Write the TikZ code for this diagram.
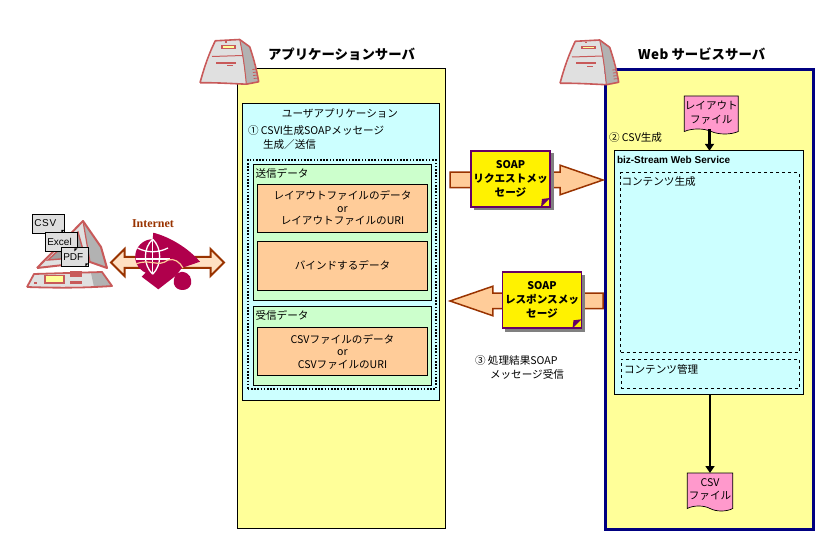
\documentclass[tikz,border=0pt]{standalone}
\usepackage{fontspec}
\setmainfont{Noto Sans CJK JP}
\newfontfamily\inetfont{Liberation Serif}
\newfontfamily\latinfont{Liberation Sans}
\usepackage{xcolor}
\usetikzlibrary{arrows.meta,positioning,shapes.arrows,shapes.symbols}
\definecolor{srvyellow}{HTML}{FFFF99}
\definecolor{appcyan}{HTML}{CCFFFF}
\definecolor{datagreen}{HTML}{CCFFCC}
\definecolor{dataorange}{HTML}{FFCC99}
\definecolor{filepink}{HTML}{FF99CC}
\definecolor{webnavy}{HTML}{000080}
\definecolor{notepurple}{HTML}{660066}
\definecolor{arrowbrown}{HTML}{993300}
\definecolor{iconred}{HTML}{C85A5A}
\definecolor{iconcrimson}{HTML}{B0004C}
\tikzset{
  servericon/.pic={
    \fill[gray!60] (39.7,0) -- (49.7,7.3) -- (58.7,42.3) -- (46.3,44.7) -- cycle;
    \fill[black!12] (0,43.3) -- (15.3,1.3) -- (39.7,0) -- (46.3,44.7)
      .. controls (30,44) and (15,43) .. (0,43.3);
    \draw[iconred,line width=1.6pt,line join=round] (0,43.3) .. controls (5,25) and (10,12) .. (15.3,1.3)
      -- (39.7,0) -- (49.7,7.3) .. controls (54,20) and (57,32) .. (58.7,42.3) -- (46.3,44.7)
      .. controls (30,44) and (15,43) .. (0,43.3);
    \draw[iconred,line width=1pt] (39.7,0) .. controls (43,15) and (45,30) .. (46.3,44.7);
    \draw[iconred,line width=1pt] (12,17) -- (43,16);
    \fill[iconred] (20.7,5.7) rectangle (36.3,9.4);
    \fill[srvyellow] (23,6.8) rectangle (34,8.3);
    \fill[iconred] (24.7,1.8) rectangle (26.7,3.3);
    \fill[iconred] (15.7,22.3) rectangle (36.3,24.3);
    \fill[iconred] (27.3,26) rectangle (33,27);
    \foreach \tick in {30,33,36,39}
      \draw[iconred,line width=.8pt] (\tick*.13+48.5,\tick) -- (\tick*.13+53,\tick-.4);
  },
  pcicon/.pic={
    \fill[gray!60] (83,221) -- (101,247) -- (107,268) -- (90,262) -- cycle;
    \fill[black!12] (37,268) -- (83,221) -- (90,262) -- cycle;
    \fill[gray!75] (48,260) -- (78,232) -- (85,257) -- cycle;
    \draw[iconred,line width=2pt,line join=round] (37,268) -- (83,221) -- (101,247)
      -- (107,268) -- (90,262) -- (37,268);
    \draw[iconred,line width=1.2pt] (83,221) -- (90,262);
    \draw[iconred,line width=1.4pt] (48,260) -- (78,232) -- (85,257) -- cycle;
    \fill[black!12] (27,287) -- (34,274) -- (102,272) -- (112,286) -- cycle;
    \fill[gray!60] (91,273) -- (102,272) -- (112,286) -- (94,287) -- cycle;
    \draw[iconred,line width=1.8pt,line join=round] (27,287) -- (34,274) -- (102,272)
      -- (112,286) .. controls (85,288) and (55,288) .. (27,287);
    \fill[srvyellow,draw=iconred,line width=1.2pt] (45,275.5) rectangle (64,283);
    \fill[iconred] (70,271) rectangle (82,277);
    \fill[iconred] (70,281) rectangle (82,284);
    \fill[iconred] (34,282) rectangle (37,284);
  },
  globeicon/.pic={
    \fill[iconcrimson] (153.3,232.7) .. controls (170,237) and (188,248) .. (200,261.7)
      -- (181.7,268) -- (176.7,275) -- (158.3,289.3) -- (141.7,276.7) -- (150,268) -- cycle;
    \fill[iconcrimson] (181,272) .. controls (175,273) and (173,279) .. (174,284)
      .. controls (176,292) and (189,292) .. (191,284) .. controls (192,279) and (190,273) .. (183,272) -- cycle;
    \fill[iconcrimson] (152.7,256.7) circle (17.5);
    \draw[white,line width=1.3pt] (152.7,239.2) .. controls (143,248) and (143,265) .. (152.7,274.2);
    \draw[white,line width=1.3pt] (152.7,239.2) .. controls (162,248) and (162,265) .. (152.7,274.2);
    \draw[white,line width=1.3pt] (152.7,239.2) -- (152.7,274.2);
    \draw[white,line width=1.3pt] (137.5,248) .. controls (147,253) and (158,253) .. (168,248);
    \draw[white,line width=1.3pt] (135.5,259) -- (170,259);
    \draw[dataorange,line width=1.2pt] (136,264) .. controls (150,258) and (158,268) .. (168,260)
      .. controls (174,258) and (180,262) .. (183,268);
  }
}
\begin{document}
\begin{tikzpicture}[
  x=1pt,y=-1pt,
  every node/.style={inner sep=0pt,outer sep=0pt,font=\fontsize{10.6}{13.5}\selectfont},
  srvbox/.style={draw,line width=1pt,fill=srvyellow,anchor=north west},
  webbox/.style={srvbox,draw=webnavy,line width=3pt},
  appbox/.style={draw,line width=.9pt,fill=appcyan,anchor=north west},
  groupbox/.style={draw,dash pattern=on 1.6pt off 1.6pt,line width=1.6pt,anchor=north west},
  databox/.style={draw,line width=.9pt,fill=datagreen,anchor=north west},
  valuebox/.style={draw,line width=.9pt,fill=dataorange,anchor=north west,align=center},
  areabox/.style={draw,dashed,line width=.7pt,anchor=north west},
  filedoc/.style={tape,tape bend top=none,tape bend bottom=out and in,tape bend height=5pt,
    draw,line width=.7pt,fill=filepink,align=center,minimum width=54pt,minimum height=38pt},
  soapnote/.style={draw=notepurple,line width=1.6pt,fill=yellow,align=center,
    minimum width=79pt,minimum height=56pt,font=\fontsize{10.6}{14}\selectfont\bfseries},
  noteshadow/.style={fill=gray,minimum width=80pt,minimum height=57pt},
  blockarrow/.style={single arrow,draw=arrowbrown,line width=1.5pt,fill=dataorange,
    single arrow head indent=0pt,single arrow tip angle=38,inner ysep=7pt,inner xsep=0pt,
    single arrow head extend=7pt,minimum width=28pt,minimum height=153pt},
  netarrow/.style={double arrow,draw=arrowbrown,line width=2pt,fill=dataorange!60,
    double arrow head indent=0pt,double arrow tip angle=90,inner ysep=4.5pt,inner xsep=0pt,
    double arrow head extend=8pt,minimum width=25pt,minimum height=113pt},
  doctag/.style={draw,line width=.9pt,fill=black!13,anchor=north west,minimum height=19pt,
    font=\fontsize{10}{11}\latinfont},
  title/.style={font=\fontsize{13.4}{15}\selectfont\bfseries},
  flow/.style={-{Triangle[length=7pt,width=9pt]},line width=2.3pt},
]
  \useasboundingbox (0,0) rectangle (828,545);

  % servers
  \node[srvbox,minimum width=208pt,minimum height=460pt] (appsrv) at (237.5,68.5) {};
  \node[webbox,minimum width=207.5pt,minimum height=459.5pt] (websrv) at (605.5,69.5) {};
  \pic at (200,39.5) {servericon};
  \pic at (560,40) {servericon};
  \node[title,anchor=west] (apptitle) at (268,54) {アプリケーションサーバ};
  \node[title,anchor=west] (webtitle) at (638,54) {W\kern.6pt e\kern.6pt b\kern3pt サービスサーバ};

  % user application
  \node[appbox,minimum width=197pt,minimum height=297pt] (userapp) at (242.5,103.5) {};
  \node (userlabel) at (340,113) {ユーザアプリケーション};
  \node[anchor=north west,align=left] (steplabel) at (248,126) {① CSVI生成SOAPメッセージ\\\hspace{15pt}生成／送信};
  \node[groupbox,minimum width=188pt,minimum height=229pt] (datagroup) at (247.8,160) {};
  \node[databox,minimum width=177.5pt,minimum height=136pt] (senddata) at (253.5,164.5) {};
  \node[right=2pt of senddata.north west,anchor=west,yshift=-9pt] (sendlabel) {送信データ};
  \node[valuebox,minimum width=170pt,minimum height=48pt] (layoutval) at (257.5,184) {レイアウトファイルのデータ\\[-1pt]or\\[-1pt]レイアウトファイルのURI};
  \node[valuebox,minimum width=170pt,minimum height=49pt] (bindval) at (257.5,241) {バインドするデータ};
  \node[databox,minimum width=177.5pt,minimum height=78.5pt] (recvdata) at (253.5,306.5) {};
  \node[right=2pt of recvdata.north west,anchor=west,yshift=-9pt] (recvlabel) {受信データ};
  \node[valuebox,minimum width=170pt,minimum height=48.5pt] (csvval) at (257.5,327.2) {CSVファイルのデータ\\[-1pt]or\\[-1pt]CSVファイルのURI};

  % web service
  \node[filedoc] (layoutdoc) at (711.3,112.5) {レイアウト\\ファイル};
  \node[anchor=west] (csvstep) at (609,137) {② CSV生成};
  \node[appbox,minimum width=188.5pt,minimum height=243.5pt] (bizbox) at (614.8,150.8) {};
  \node[anchor=west,font=\fontsize{10}{12}\latinfont\bfseries] (bizlabel) at (617,160) {biz-Stream Web Service};
  \node[areabox,minimum width=178.5pt,minimum height=179.5pt] (genarea) at (620.7,172.7) {};
  \node[anchor=west] (genlabel) at (621.5,182) {コンテンツ生成};
  \node[areabox,minimum width=178.5pt,minimum height=29pt] (mgmtarea) at (621.3,359.3) {};
  \node[anchor=west] (mgmtlabel) at (624,369) {コンテンツ管理};
  \node[filedoc,minimum width=45.5pt] (csvdoc) at (710,489.5) {CSV\\ファイル};
  \draw[flow] (layoutdoc.south -| 709.5,0) -- (bizbox.north -| 709.5,0);
  \draw[flow] (bizbox.south -| 710,0) -- (csvdoc.north -| 710,0);

  % soap messages
  \node[blockarrow,anchor=tip] (reqarrow) at (603,180) {};
  \node[blockarrow,anchor=tip,shape border rotate=180] (resarrow) at (450,301) {};
  \node[noteshadow] (reqshadow) at (513.5,182) {};
  \node[noteshadow] (resshadow) at (545,303.3) {};
  \node[soapnote] (reqnote) at (510.5,179) {SOAP\\リクエストメッ\\セージ};
  \node[soapnote] (resnote) at (542,300.3) {SOAP\\レスポンスメッ\\セージ};
  \foreach \note in {reqnote,resnote}
    \fill[notepurple] ([shift={(-9pt,0pt)}]\note.south east) -- ([shift={(0pt,9pt)}]\note.south east)
      -- ([shift={(-8pt,8pt)}]\note.south east) -- cycle;
  \node[anchor=north west,align=left] (resultlabel) at (475,356) {③ 処理結果SOAP\\\hspace{15pt}メッセージ受信};

  % client and internet
  \pic at (0,0) {pcicon};
  \node[netarrow] (netarrow) at (167.5,262.5) {};
  \pic at (0,0) {globeicon};
  \node[font=\fontsize{12}{14}\inetfont\bfseries,text=arrowbrown] (netlabel) at (153,224) {Internet};
  \node[doctag,minimum width=32pt,text width=30pt] (csvtag) at (32.3,214) {\hspace{1pt}C\kern.7pt S\kern.7pt V};
  \node[doctag,minimum width=32pt,text width=30pt] (exceltag) at (45.3,232.5) {\hspace{1pt}Excel};
  \node[doctag,minimum width=27pt,text width=25pt] (pdftag) at (61.3,247.5) {\hspace{1pt}PDF};
  \foreach \tag in {csvtag,exceltag,pdftag}
    \fill ([shift={(-3pt,0pt)}]\tag.south east) -- ([shift={(0pt,3pt)}]\tag.south east)
      -- ([shift={(-3pt,3pt)}]\tag.south east) -- cycle;
\end{tikzpicture}
\end{document}
